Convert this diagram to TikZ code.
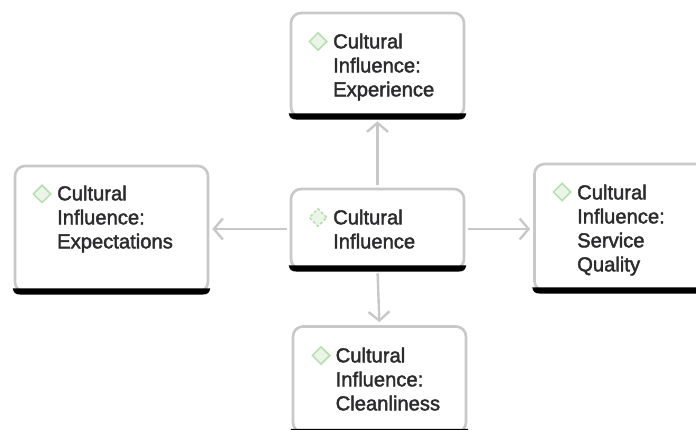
\documentclass[tikz,border=0pt]{standalone}
\usepackage{fontspec}
\setmainfont{Liberation Sans}
\newfontfamily\cardfont{Liberation Sans}[RawFeature={embolden=2}]
\usetikzlibrary{shapes.geometric,arrows.meta}
\definecolor{edgegray}{HTML}{C8C8C8}
\definecolor{inkdark}{HTML}{2C2C2E}
\definecolor{dgreen}{HTML}{B5E0AC}
\definecolor{dfill}{HTML}{EAF5E8}
\tikzset{
  card/.style={draw=edgegray,line width=2.6pt,fill=white,rounded corners=10pt,inner sep=0pt,anchor=center},
  label/.style={anchor=north west,align=left,inner sep=0pt,text=inkdark,font=\cardfont\fontsize{20.2}{24}\selectfont},
  gem/.style={diamond,draw=dgreen,fill=dfill,line width=1.5pt,minimum width=18pt,minimum height=18pt,inner sep=0pt,aspect=1},
  link/.style={draw=edgegray,line width=2.4pt,-{Straight Barb[length=9pt,width=21pt,line width=2.4pt]}}
}
\begin{document}
\begin{tikzpicture}[x=1pt,y=-1pt]
\useasboundingbox (0,0) rectangle (696,430);
\clip (0,0) rectangle (696,430);
\node[card,minimum width=173pt,minimum height=104pt] (top) at (377.5,65) {};
\node[card,minimum width=173pt,minimum height=80pt] (mid) at (377.5,229) {};
\node[card,minimum width=193pt,minimum height=126pt] (lft) at (111.5,229) {};
\node[card,minimum width=193pt,minimum height=127pt] (rgt) at (631,227.5) {};
\node[card,minimum width=173pt,minimum height=106pt] (bot) at (379.5,379.5) {};
\foreach \n in {top,mid,lft,rgt,bot}{
  \fill[black] ([xshift=-1pt,yshift=5pt]\n.south west) -- ([xshift=1pt,yshift=5pt]\n.south east)
    .. controls ([xshift=0pt,yshift=1pt]\n.south east) and ([xshift=-1pt,yshift=-1.3pt]\n.south east) .. ([xshift=-7pt,yshift=-1.3pt]\n.south east)
    -- ([xshift=7pt,yshift=-1.3pt]\n.south west)
    .. controls ([xshift=1pt,yshift=-1.3pt]\n.south west) and ([xshift=0pt,yshift=1pt]\n.south west) .. cycle;
}
\node[gem] (g1) at (318,41.5) {};
\node[gem,densely dashed] (g2) at (318,217.5) {};
\node[gem] (g3) at (42,194) {};
\node[gem] (g4) at (562,192) {};
\node[gem] (g5) at (321,355.5) {};
\node[label] (t1) at (333,33.5) {Cultural\\Influence:\\Experience};
\node[label] (t2) at (333,209.5) {Cultural\\Influence};
\node[label] (t3) at (57,185.5) {Cultural\\Influence:\\Expectations};
\node[label] (t4) at (577,184.5) {Cultural\\Influence:\\Service\\Quality};
\node[label] (t5) at (335.5,347.5) {Cultural\\Influence:\\Cleanliness};
\draw[link,shorten >=3pt,shorten <=3pt] (mid.north) -- (top.south);
\draw[link,shorten >=3pt,shorten <=3pt] (mid.west) -- (lft.east);
\draw[link,shorten >=3pt,shorten <=3pt] (mid.east) -- (mid.east -| rgt.west);
\draw[link,shorten >=3pt,shorten <=3pt] (mid.south) -- (bot.north);
\end{tikzpicture}
\end{document}
